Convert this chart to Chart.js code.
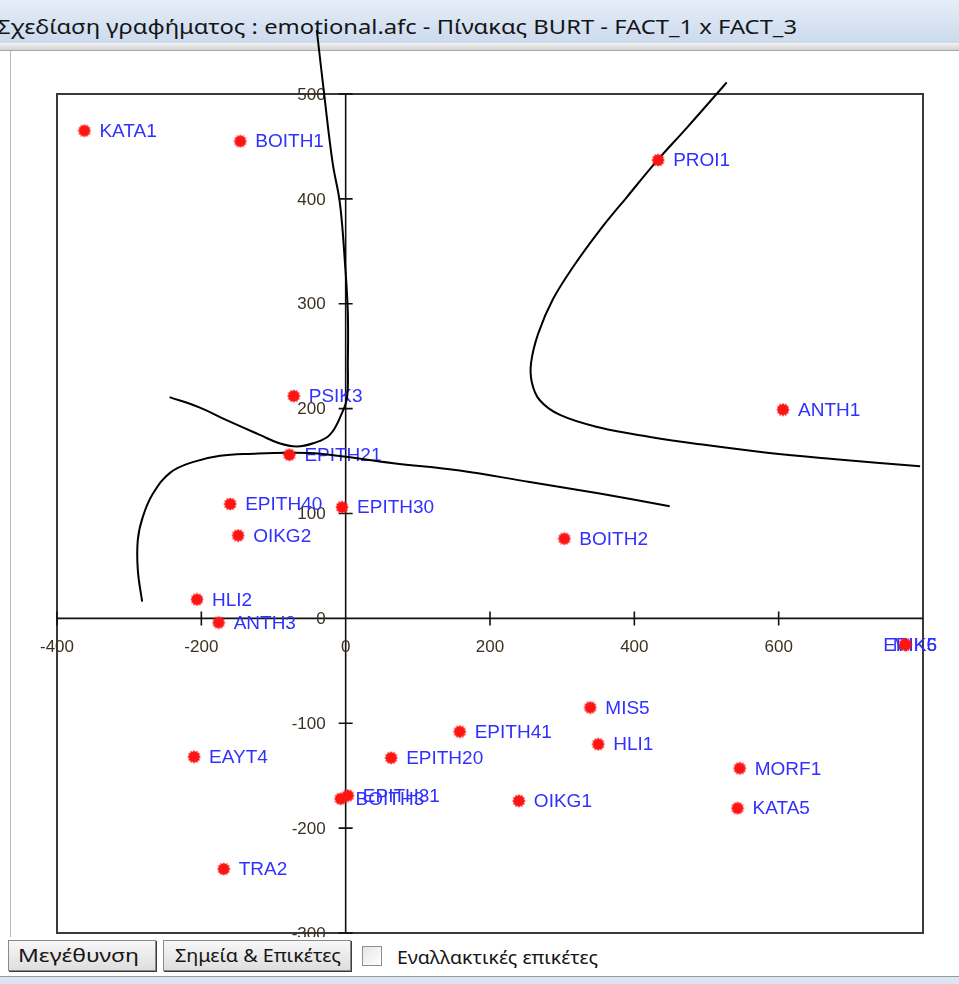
<!DOCTYPE html>
<html>
<head>
<meta charset="utf-8">
<script src="https://cdn.jsdelivr.net/npm/chart.js@4.4.1/dist/chart.umd.min.js"></script>
<style>
  html, body { margin: 0; padding: 0; background: #fff; width: 959px; height: 984px; overflow: hidden; position: relative; }
  #titlebar { position: absolute; left: 0; top: 0; width: 959px; height: 43px; background: linear-gradient(#e6eef8, #cbdaed); z-index: 0; }
  #title { position: absolute; left: -3px; top: 15px; font-family: "Noto Sans", sans-serif; font-size: 20px; line-height: 24px; color: #151515; white-space: nowrap; transform-origin: 0 50%; }
  #sep { position: absolute; left: 0; top: 43px; width: 959px; height: 7px; background: linear-gradient(#f4f4f4, #d2d2d2); border-bottom: 1px solid #a9a9a9; z-index: 0; }
  #leftedge { position: absolute; left: 10px; top: 51px; width: 1px; height: 926px; background: #b8b8b8; z-index: 0; }
  #chart { position: absolute; left: 0; top: 0; z-index: 1; }
  #bottom { position: absolute; left: 0; top: 937px; width: 959px; height: 47px; background: #fff; z-index: 2; }
  .btn { position: absolute; top: 3px; height: 29px; border: 1px solid #8a8a8a; background: linear-gradient(#f7f7f7, #dedede); box-shadow: 1px 1px 0 #3c3c3c; color: #151515; overflow: hidden; }
  .btn span, #chklabel { position: absolute; top: 3px; font-family: "Noto Sans", sans-serif; font-size: 18px; line-height: 22px; white-space: nowrap; transform-origin: 0 50%; }
  #chkbox { position: absolute; left: 362px; top: 9px; width: 18px; height: 18px; border: 1px solid #8e8f8f; background: linear-gradient(135deg, #e6e6e6, #ffffff); }
  #chklabel { left: 397px; top: 9px; color: #151515; }
  #strip { position: absolute; left: 0; top: 39px; width: 959px; height: 8px; border-top: 1px solid #9a9a9a; background: #dce6f2; }
</style>
</head>
<body>
<div id="titlebar"><span id="title">Σχεδίαση γραφήματος :  emotional.afc  -  Πίνακας BURT  -  FACT_1 x FACT_3</span></div>
<div id="sep"></div>
<div id="leftedge"></div>
<canvas id="chart" width="959" height="984"></canvas>
<div id="bottom">
  <div class="btn" style="left:8px;width:146px;"><span id="b1" style="left:9px;">Μεγέθυνση</span></div>
  <div class="btn" style="left:163px;width:186px;"><span id="b2" style="left:11px;">Σημεία &amp; Επικέτες</span></div>
  <div id="chkbox"></div>
  <span id="chklabel">Εναλλακτικές επικέτες</span>
  <div id="strip"></div>
</div>
<script>
// Category labels and their factor coordinates (FACT_1 on x, FACT_3 on y)
const pointLabels = ["KATA1", "BOITH1", "PROI1", "PSIK3", "ANTH1", "EPITH21", "EPITH40", "EPITH30",
  "OIKG2", "BOITH2", "HLI2", "ANTH3", "EPIK5", "MIK6", "MIS5", "EPITH41", "HLI1", "EAYT4",
  "EPITH20", "MORF1", "EPITH31", "BOITH3", "OIKG1", "KATA5", "TRA2"];
const fact1 = [-362, -146, 433, -72, 606, -78, -160, -5,
  -149, 303, -206, -176, 775, 776, 339, 158, 350, -210,
  63, 546, 3, -7, 240, 543, -169];
const fact3 = [465, 455, 437, 212, 199, 156, 109, 106,
  79, 76, 18, -4, -25, -25, -85, -108, -120, -132,
  -133, -143, -169, -172, -174, -181, -239];

// Axis ticks
const xTicks = [-400, -200, 0, 200, 400, 600];
const yTicks = [-300, -200, -100, 0, 100, 200, 300, 400, 500];

// Hand-drawn separating curves (in factor units)
const curveAx = [-40, -30, -18, -8, -1, 3, 3, 2, -5, -22, -45, -68, -92, -119, -165, -202, -244];
const curveAy = [561, 501, 434, 396, 339, 291, 243, 211, 196, 175, 167, 164, 167, 175, 189, 201, 211];
const curveBx = [-282, -288, -288, -281, -267, -243, -212, -174, -128, -81, -35, 66, 158, 255, 352, 449];
const curveBy = [16, 46, 75, 97, 119, 139, 149, 155, 157, 158, 157, 148, 141, 130, 119, 107];
const curveCx = [528, 514, 473, 431, 390, 352, 315, 287, 267, 257, 258, 269, 297, 352, 422, 491, 584, 675, 796];
const curveCy = [511, 500, 468, 436, 402, 370, 335, 304, 272, 244, 225, 208, 194, 182, 173, 166, 158, 152, 145];

// Squeeze a text run horizontally to a given width
function fitWidth(id, w) {
  const el = document.getElementById(id);
  const real = el.getBoundingClientRect().width;
  el.style.transform = 'scaleX(' + (w / real) + ')';
}
fitWidth('title', 800);
fitWidth('b1', 121);
fitWidth('b2', 166);
fitWidth('chklabel', 201);

// Red sun-shaped marker
function makeMarker() {
  const c = document.createElement('canvas');
  c.width = 14; c.height = 14;
  const g = c.getContext('2d');
  g.fillStyle = '#ff1414';
  g.beginPath();
  const n = 12;
  for (let i = 0; i < 2 * n; i++) {
    const r = i % 2 ? 5.3 : 6.8;
    const a = i * Math.PI / n;
    g.lineTo(7 + r * Math.cos(a), 7 + r * Math.sin(a));
  }
  g.closePath();
  g.fill();
  return c;
}

const zip = (xs, ys) => xs.map((x, i) => ({ x: x, y: ys[i] }));

// Frame, crossing axes, tick marks and tick labels
const axesPlugin = {
  id: 'crossAxes',
  beforeDatasetsDraw(chart) {
    const { ctx, chartArea: a, scales: { x, y } } = chart;
    const x0 = x.getPixelForValue(0);
    const y0 = y.getPixelForValue(0);
    ctx.save();
    ctx.strokeStyle = '#3a3a3a';
    ctx.lineWidth = 2;
    ctx.strokeRect(a.left, a.top, a.right - a.left, a.bottom - a.top);
    ctx.strokeStyle = '#111';
    ctx.lineWidth = 1.6;
    ctx.beginPath();
    ctx.moveTo(a.left, y0); ctx.lineTo(a.right, y0);
    ctx.moveTo(x0, a.top); ctx.lineTo(x0, a.bottom);
    xTicks.forEach(v => { const px = x.getPixelForValue(v); ctx.moveTo(px, y0 - 7); ctx.lineTo(px, y0 + 7); });
    yTicks.forEach(v => { const py = y.getPixelForValue(v); ctx.moveTo(x0 - 7, py); ctx.lineTo(x0 + 7, py); });
    ctx.stroke();
    ctx.fillStyle = '#3b3222';
    ctx.font = '17px "Liberation Sans", Arial, sans-serif';
    ctx.textBaseline = 'middle';
    ctx.textAlign = 'center';
    xTicks.forEach(v => ctx.fillText(String(v), x.getPixelForValue(v), y0 + 29));
    ctx.textAlign = 'right';
    yTicks.forEach(v => ctx.fillText(String(v), x0 - 20, y.getPixelForValue(v) + 1));
    ctx.restore();
  }
};

// Category names beside each marker
const labelPlugin = {
  id: 'pointNames',
  beforeDatasetsDraw(chart) {
    const meta = chart.getDatasetMeta(0);
    const ctx = chart.ctx;
    const lim = chart.chartArea.right + 14;
    ctx.save();
    ctx.font = '19px "Liberation Sans", Arial, sans-serif';
    ctx.fillStyle = '#3030ff';
    ctx.textBaseline = 'middle';
    ctx.textAlign = 'left';
    meta.data.forEach((el, i) => {
      const t = pointLabels[i];
      const w = ctx.measureText(t).width;
      let px = el.x + 15;
      if (px + w > lim) px = lim - w;
      ctx.fillText(t, px, el.y + 1);
    });
    ctx.restore();
  }
};

const curveStyle = { showLine: true, pointRadius: 0, borderColor: '#000', borderWidth: 2, tension: 0.4, clip: false, fill: false };

new Chart(document.getElementById('chart'), {
  type: 'scatter',
  data: {
    datasets: [
      { label: 'points', data: zip(fact1, fact3), pointStyle: makeMarker(), pointRadius: 7, showLine: false },
      Object.assign({ label: 'curveA', data: zip(curveAx, curveAy) }, curveStyle),
      Object.assign({ label: 'curveB', data: zip(curveBx, curveBy) }, curveStyle),
      Object.assign({ label: 'curveC', data: zip(curveCx, curveCy) }, curveStyle)
    ]
  },
  options: {
    responsive: false,
    animation: false,
    devicePixelRatio: 1,
    layout: { padding: { left: 57, right: 36, top: 94, bottom: 51 } },
    elements: { line: { capBezierPoints: false } },
    plugins: { legend: { display: false }, tooltip: { enabled: false } },
    scales: {
      x: { type: 'linear', min: -400, max: 800, display: false },
      y: { type: 'linear', min: -300, max: 500, display: false }
    }
  },
  plugins: [axesPlugin, labelPlugin]
});
</script>
</body>
</html>
